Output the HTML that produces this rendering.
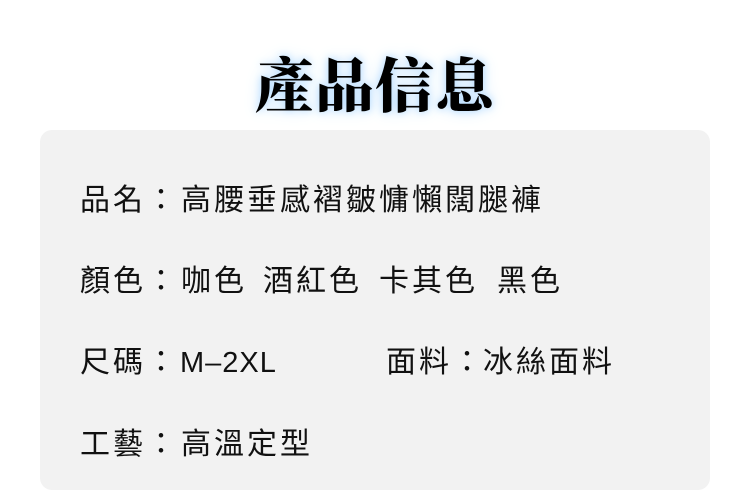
<!DOCTYPE html>
<html><head><meta charset="utf-8"><style>
body{margin:0;width:750px;height:497px;background:#fff;position:relative;overflow:hidden}
.t{position:absolute;left:0;width:750px;top:44px;text-align:center;font-family:"Noto Serif CJK SC","Liberation Serif",serif;font-weight:900;font-size:59px;line-height:76px;color:#000;letter-spacing:1px;text-shadow:0 0 8px #b4dbff,0 0 16px #d0e9ff}
.box{position:absolute;left:40px;top:130px;width:670px;height:360px;background:#f2f2f2;border-radius:12px}
.l{position:absolute;font-family:"Liberation Sans","Noto Sans CJK TC",sans-serif;font-size:30px;line-height:34px;color:#111;letter-spacing:3px;white-space:nowrap}
</style></head><body>
<div class="t">產品信息</div>
<div class="box"></div>
<div class="l" style="left:80px;top:184px">品名：</div>
<div class="l" style="left:181px;top:184px">高腰垂感褶皺慵懶闊腿褲</div>
<div class="l" style="left:80px;top:265px">顏色：</div>
<div class="l" style="left:181px;top:265px">咖色</div>
<div class="l" style="left:263px;top:265px">酒紅色</div>
<div class="l" style="left:379px;top:265px">卡其色</div>
<div class="l" style="left:497px;top:265px">黑色</div>
<div class="l" style="left:80px;top:346px">尺碼：</div>
<div class="l" style="left:180px;top:346px;font-size:29px;letter-spacing:1px">M–2XL</div>
<div class="l" style="left:386px;top:346px">面料：</div>
<div class="l" style="left:483px;top:346px">冰絲面料</div>
<div class="l" style="left:80px;top:428px">工藝：</div>
<div class="l" style="left:181px;top:428px">高溫定型</div>
</body></html>
